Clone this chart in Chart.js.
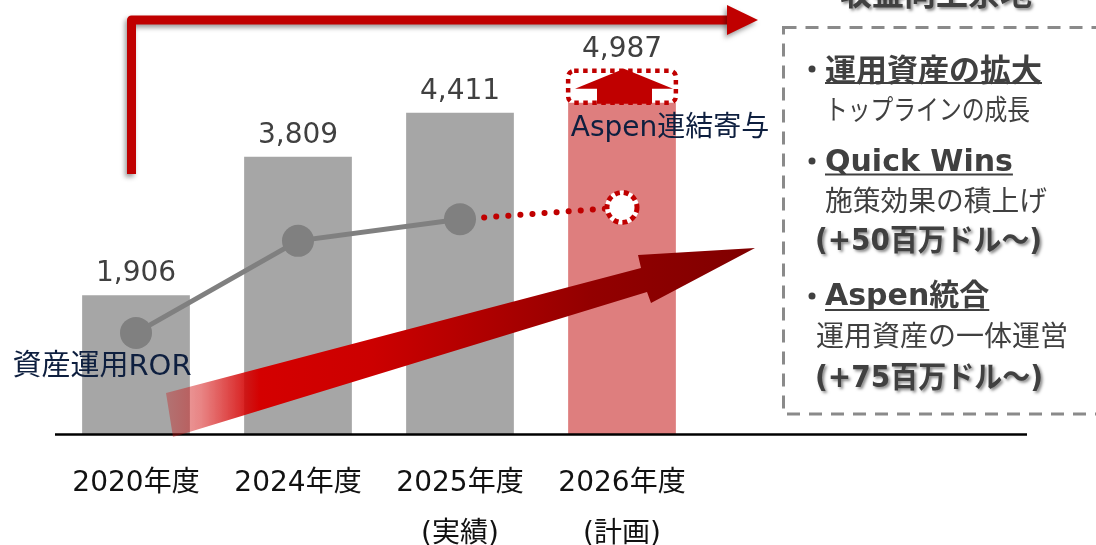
<!DOCTYPE html>
<html><head><meta charset="utf-8">
<script src="https://cdn.jsdelivr.net/npm/chart.js@4/dist/chart.umd.min.js"></script>
<style>html,body{margin:0;padding:0;background:#fff;overflow:hidden;}</style>
</head><body>
<canvas id="c" width="1096" height="545"></canvas>
<script>
// ---- data ----
const categories = [['2020年度'], ['2024年度'], ['2025年度', '(実績)'], ['2026年度', '(計画)']];
const totalValues = [1906, 3809, 4411, 4987];
const aspenContribution = [0, 0, 0, 437];
const rorValues = [23.3, 44.5, 49.5, 52.2];
const valueLabels = ['1,906', '3,809', '4,411', '4,987'];
const rorLabel = '資産運用ROR';
const aspenLabel = 'Aspen連結寄与';
const panelTitle = '収益向上余地';
const panelHeads = ['運用資産の拡大', 'Quick Wins', 'Aspen統合'];
const panelSubs = ['トップラインの成長', '施策効果の積上げ', '運用資産の一体運営'];
const panelAmounts = ['(+50百万ドル〜)', '(+75百万ドル〜)'];

const baseValues = totalValues.map((v, i) => v - aspenContribution[i]);
const aspenValues = aspenContribution.map(v => v ? v : null);

const FONT = '"DejaVu Sans", "Noto Sans CJK JP", sans-serif';
const CJK = '"Noto Sans CJK JP", "DejaVu Sans", sans-serif';
const RED = '#c00000';

const deco = {
  id: 'deco',
  afterDatasetsDraw(chart) {
    const ctx = chart.ctx;
    const xs = chart.scales.x, ys = chart.scales.y;
    const aspenMeta = chart.getDatasetMeta(2);
    const lineMeta = chart.getDatasetMeta(0);
    ctx.save();

    // baseline
    const y0 = ys.getPixelForValue(0);
    ctx.strokeStyle = '#000'; ctx.lineWidth = 2.6;
    ctx.beginPath(); ctx.moveTo(55, y0 + 0.5); ctx.lineTo(1027, y0 + 0.5); ctx.stroke();

    // big gradient arrow
    const g = ctx.createLinearGradient(166, 0, 755, 0);
    g.addColorStop(0, 'rgba(200,20,20,0.35)');
    g.addColorStop(0.06, 'rgba(210,10,10,0.5)');
    g.addColorStop(0.16, 'rgba(212,0,0,1)');
    g.addColorStop(0.35, '#cc0000');
    g.addColorStop(0.72, '#930000');
    g.addColorStop(1, '#800000');
    ctx.fillStyle = g;
    ctx.beginPath();
    ctx.moveTo(166, 393); ctx.lineTo(641, 268); ctx.lineTo(638, 255); ctx.lineTo(755, 248);
    ctx.lineTo(651, 303); ctx.lineTo(647, 292); ctx.lineTo(173, 437); ctx.closePath();
    ctx.fill();

    // Aspen dotted box + up arrow
    const el = aspenMeta.data[3];
    if (el) {
      const w = el.width;
      const L = el.x - w / 2, R = el.x + w / 2, T = el.y, B = el.base;
      ctx.strokeStyle = RED; ctx.lineWidth = 4.5; ctx.setLineDash([4.5, 4.5]);
      ctx.beginPath();
      if (ctx.roundRect) ctx.roundRect(L, T, R - L, B - T, 6); else ctx.rect(L, T, R - L, B - T);
      ctx.stroke();
      ctx.setLineDash([]);
      const c = el.x + 2;
      ctx.fillStyle = RED;
      ctx.beginPath();
      ctx.moveTo(c, T - 2); ctx.lineTo(c + 49, T + 18); ctx.lineTo(c + 28, T + 18); ctx.lineTo(c + 28, B + 1);
      ctx.lineTo(c - 27, B + 1); ctx.lineTo(c - 27, T + 18); ctx.lineTo(c - 49, T + 18); ctx.closePath();
      ctx.fill();
    }

    // dotted ring for planned ROR point
    const p = lineMeta.data[3];
    if (p) {
      ctx.fillStyle = '#fff';
      ctx.beginPath(); ctx.arc(p.x, p.y, 17, 0, Math.PI * 2); ctx.fill();
      ctx.strokeStyle = RED; ctx.lineWidth = 5; ctx.setLineDash([5, 4]);
      ctx.beginPath(); ctx.arc(p.x, p.y, 15, 0, Math.PI * 2); ctx.stroke();
      ctx.setLineDash([]);
    }

    // value labels
    ctx.fillStyle = '#404040';
    ctx.font = '28px ' + FONT;
    ctx.textAlign = 'center'; ctx.textBaseline = 'alphabetic';
    totalValues.forEach((v, i) => {
      ctx.fillText(valueLabels[i], xs.getPixelForValue(i), ys.getPixelForValue(v) - 14);
    });

    // series annotations
    ctx.fillStyle = '#0e1f3f';
    ctx.textBaseline = 'middle';
    ctx.font = '29px ' + FONT;
    const p0 = lineMeta.data[0];
    ctx.fillText(rorLabel, p0.x - 34, p0.y + 35);
    ctx.font = '28px ' + FONT;
    ctx.fillText(aspenLabel, xs.getPixelForValue(3) + 48, ys.getPixelForValue(totalValues[3]) + 58);

    // top bracket arrow with shadow
    ctx.save();
    ctx.shadowColor = 'rgba(0,0,0,0.4)'; ctx.shadowBlur = 5; ctx.shadowOffsetX = -2; ctx.shadowOffsetY = 3;
    ctx.strokeStyle = RED; ctx.lineWidth = 9; ctx.lineJoin = 'round';
    const bx = xs.getPixelForValue(0) - 4.5;
    ctx.beginPath(); ctx.moveTo(bx, 174); ctx.lineTo(bx, 20); ctx.lineTo(730, 20); ctx.stroke();
    ctx.fillStyle = RED;
    ctx.beginPath(); ctx.moveTo(727, 5); ctx.lineTo(758, 20); ctx.lineTo(727, 35); ctx.closePath(); ctx.fill();
    ctx.restore();

    // right panel
    ctx.strokeStyle = '#8a8a8a'; ctx.lineWidth = 3; ctx.setLineDash([13, 9]);
    ctx.strokeRect(783.5, 27.5, 420, 386.5);
    ctx.setLineDash([]);

    ctx.save();
    ctx.shadowColor = 'rgba(0,0,0,0.45)'; ctx.shadowBlur = 3; ctx.shadowOffsetX = 2; ctx.shadowOffsetY = 2;
    ctx.fillStyle = '#404040';
    ctx.font = 'bold 32px ' + CJK; ctx.textAlign = 'center'; ctx.textBaseline = 'middle';
    ctx.fillText(panelTitle, 936, -7);
    ctx.textAlign = 'left';
    ctx.font = 'bold 30px ' + FONT;
    ctx.fillText(panelAmounts[0], 815, 242, 227);
    ctx.fillText(panelAmounts[1], 815, 379, 228);
    ctx.restore();

    ctx.fillStyle = '#404040'; ctx.strokeStyle = '#404040';
    ctx.textAlign = 'left';
    [[812, 69], [812, 161], [812, 296]].forEach(([x, y]) => {
      ctx.beginPath(); ctx.arc(x, y, 3.5, 0, Math.PI * 2); ctx.fill();
    });
    ctx.textBaseline = 'middle';
    ctx.font = 'bold 31px ' + CJK;
    ctx.fillText(panelHeads[0], 825, 69);
    const w0 = ctx.measureText(panelHeads[0]).width;
    ctx.textBaseline = 'alphabetic';
    ctx.font = 'bold 30px ' + FONT;
    ctx.fillText(panelHeads[1], 825, 171);
    const w1 = ctx.measureText(panelHeads[1]).width;
    ctx.fillText(panelHeads[2], 825, 305);
    const w2 = ctx.measureText(panelHeads[2]).width;
    ctx.lineWidth = 2;
    [[83, w0], [174.5, w1], [310, w2]].forEach(([y, w]) => {
      ctx.beginPath(); ctx.moveTo(825, y); ctx.lineTo(825 + w, y); ctx.stroke();
    });
    ctx.textBaseline = 'middle';
    ctx.font = '28px ' + CJK;
    ctx.fillText(panelSubs[0], 825, 109, 205);
    ctx.fillText(panelSubs[1], 825, 200, 222);
    ctx.fillText(panelSubs[2], 816, 335, 257);

    ctx.restore();
  }
};

new Chart(document.getElementById('c'), {
  type: 'bar',
  data: {
    labels: categories,
    datasets: [
      {
        type: 'line', label: 'ROR', data: rorValues, yAxisID: 'y2', order: 0,
        borderColor: '#808080', borderWidth: 5, borderCapStyle: 'round',
        pointRadius: [16, 16, 16, 0], pointHoverRadius: 0,
        pointBackgroundColor: '#808080', pointBorderWidth: 0,
        segment: {
          borderColor: c => c.p1DataIndex === 3 ? RED : '#808080',
          borderDash: c => c.p1DataIndex === 3 ? [0.1, 12] : undefined,
          borderWidth: c => c.p1DataIndex === 3 ? 6 : 5
        }
      },
      {
        label: 'base', data: baseValues, order: 1, stack: 's',
        backgroundColor: ['#a6a6a6', '#a6a6a6', '#a6a6a6', '#de7e7e'],
        barPercentage: 0.665, categoryPercentage: 1
      },
      {
        label: 'aspen', data: aspenValues, order: 1, stack: 's',
        backgroundColor: 'rgba(0,0,0,0)',
        barPercentage: 0.665, categoryPercentage: 1
      }
    ]
  },
  options: {
    responsive: false, animation: false, devicePixelRatio: 1,
    layout: { autoPadding: false, padding: { left: 55, right: 393, top: 0, bottom: 0 } },
    plugins: { legend: { display: false }, tooltip: { enabled: false } },
    scales: {
      x: {
        stacked: true,
        grid: { display: false, drawTicks: false }, border: { display: false },
        ticks: { color: '#111', font: { family: FONT, size: 28, lineHeight: 1.8 }, padding: 25, maxRotation: 0, autoSkip: false },
        afterFit: s => { s.height = 111; }
      },
      y: { stacked: true, display: false, min: 0, max: 5960 },
      y2: { display: false, min: 0, max: 100 }
    }
  },
  plugins: [deco]
});
</script>
</body></html>
